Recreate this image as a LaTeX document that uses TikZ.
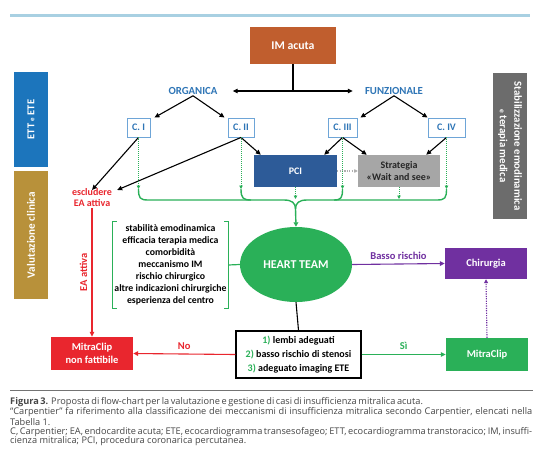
\documentclass[tikz,border=0pt]{standalone}
\usepackage{fontspec}
\setmainfont{Carlito}
\newfontfamily\capfont{Open Sans}
\usetikzlibrary{arrows.meta,shapes.geometric,calc}
\definecolor{topline}{RGB}{168,208,226}
\definecolor{imorange}{RGB}{192,94,46}
\definecolor{cblue}{RGB}{46,117,182}
\definecolor{cbord}{RGB}{110,165,215}
\definecolor{ettblue}{RGB}{28,117,188}
\definecolor{valgold}{RGB}{184,145,58}
\definecolor{pciblue}{RGB}{45,91,152}
\definecolor{stratgrey}{RGB}{166,166,166}
\definecolor{bargrey}{RGB}{108,108,108}
\definecolor{mred}{RGB}{233,38,46}
\definecolor{mgreen}{RGB}{42,176,88}
\definecolor{mpurple}{RGB}{112,48,160}
\definecolor{dotgrey}{RGB}{175,175,175}
\definecolor{captext}{RGB}{70,70,70}
\begin{document}
\begin{tikzpicture}[x=1pt,y=-1pt,
  arr/.style={-{Triangle[length=5pt,width=4.5pt]}, line width=1.1pt},
  cbox/.style={draw=cbord, fill=white, line width=0.9pt, text=cblue, font=\bfseries\fontsize{10}{11}\selectfont, minimum height=19pt, inner sep=0pt},
  fillbox/.style={inner sep=0pt, text=white, font=\bfseries\fontsize{10.5}{13}\selectfont, align=center},
  hdr/.style={text=cblue, font=\bfseries\fontsize{10.8}{12}\selectfont, inner sep=1pt},
  sidebar/.style={inner sep=0pt, minimum width=34pt},
  gdot/.style={draw=mgreen, line width=1pt, dash pattern=on 1pt off 1pt, -{Triangle[length=3.5pt,width=3.5pt]}},
  gline/.style={draw=mgreen, line width=1.4pt},
  lbl/.style={font=\bfseries\fontsize{10.5}{12}\selectfont},
  captxt/.style={anchor=west, inner sep=0pt, text=captext, font=\capfont\fontsize{9.2}{10}\selectfont}
]
\useasboundingbox (0,0) rectangle (543,458);
\fill[white] (0,0) rectangle (543,458);
% top rule
\draw[topline, line width=3pt] (10,15) -- (530,15);

% side bars
\node[sidebar, fill=ettblue, minimum height=95pt] (ett) at (31,119.5) {};
\node[rotate=90, text=white, font=\bfseries\fontsize{10.5}{12}\selectfont] at (ett.center) {ETT {\fontsize{7}{8}\selectfont e} ETE};
\node[sidebar, fill=valgold, minimum height=128pt] (val) at (31,235) {};
\node[rotate=90, text=white, font=\bfseries\fontsize{11.2}{13}\selectfont] at (val.center) {Valutazione clinica};
\node[sidebar, fill=bargrey, minimum height=146pt] (stab) at (510,146) {};
\node[rotate=-90, text=white, font=\bfseries\fontsize{10.8}{14.5}\selectfont, align=center] at (stab.center) {Stabilizzazione emodinamica\\{\fontsize{7.5}{8}\selectfont e} terapia medica};

% IM acuta
\node[fillbox, fill=imorange, minimum width=86pt, minimum height=37pt, font=\bfseries\fontsize{11.8}{13}\selectfont] (im) at (293,45.5) {IM acuta};
\node[hdr] (org) at (193,91) {ORGANICA};
\node[hdr] (fun) at (394,91) {FUNZIONALE};
\coordinate (jn) at (293,91);
\draw[line width=1.1pt] (im.south) -- (jn);
\draw[arr, shorten >=14pt] (jn) -- (org.east);
\draw[arr, shorten >=11pt] (jn) -- (fun.west);

% Carpentier boxes
\node[cbox, minimum width=23pt] (c1) at (138.5,127.5) {C. I};
\node[cbox, minimum width=26pt] (c2) at (241,127.5) {C. II};
\node[cbox, minimum width=29pt] (c3) at (342.5,127.5) {C. III};
\node[cbox, minimum width=37pt] (c4) at (446.5,127.5) {C. IV};
\draw[arr] (org.south) -- ([xshift=4pt]c1.north east);
\draw[arr] (org.south) -- ([xshift=-3pt]c2.north west);
\draw[arr] (fun.south) -- ([xshift=3pt]c3.north east);
\draw[arr] (fun.south) -- (c4.north west);

% PCI and strategy
\node[fillbox, fill=pciblue, minimum width=83pt, minimum height=32pt, font=\bfseries\fontsize{10}{11}\selectfont] (pci) at (295.5,171) {PCI};
\node[fillbox, fill=stratgrey, text=black!85, minimum width=82pt, minimum height=32pt, font=\bfseries\fontsize{10}{12.5}\selectfont] (strat) at (399,171) {Strategia\\«Wait and see»};
\draw[arr] (c2.south) -- ([xshift=7pt]pci.north west);
\draw[arr] (c3.south) -- ([xshift=-13pt]pci.north east);
\draw[arr] (c3.south) -- ([xshift=9pt]strat.north west);
\draw[arr] (c4.south) -- ([xshift=-14pt]strat.north east);
\draw[draw=dotgrey, line width=1.2pt, dash pattern=on 1.2pt off 1.2pt, -{Triangle[length=3.5pt,width=3.5pt]}] (pci.east) -- (strat.west);

% escludere
\node[text=mred, align=center, font=\bfseries\fontsize{10}{11.5}\selectfont, inner sep=1pt] (escl) at (92,197.5) {escludere\\EA attiva};
\draw[arr] (c1.south) -- ([yshift=-3pt]escl.north);
\draw[arr] (c2.south) -- ([xshift=4pt,yshift=-3pt]escl.north east);

% green merge
\coordinate (g1) at (138.5,189);
\coordinate (g2) at (241,189);
\coordinate (g3) at (342.5,189);
\coordinate (g4) at (446.5,189);
\coordinate (gp) at (295.5,199);
\coordinate (gs) at (399,199);
\coordinate (gm) at (295.5,209);
\draw[gdot] (c1.south) -- (g1);
\draw[gdot] (c2.south) -- (g2);
\draw[gdot] (c3.south) -- (g3);
\draw[gdot] (c4.south) -- (g4);
\draw[gdot] (pci.south) -- (gp);
\draw[gdot] (strat.south) -- (gs);
\draw[gline] (g1) .. controls (138.5,198) and (140,200) .. (148,200) -- (284,200) .. controls (292,200) and (295.5,203) .. (gm);
\draw[gline] (g2) .. controls (241,198) and (243,200) .. (251,200);
\draw[gline] (g4) .. controls (446.5,198) and (445,200) .. (437,200) -- (307,200) .. controls (299,200) and (295.5,203) .. (gm);
\draw[gline] (g3) .. controls (342.5,198) and (341,200) .. (334,200);

% HEART TEAM
\node[ellipse, fill=mgreen, minimum width=112pt, minimum height=75pt, inner sep=0pt, text=white, font=\bfseries\fontsize{12}{14}\selectfont] (ht) at (296,264.5) {HEART TEAM};
\draw[gline, -{Triangle[length=4.5pt,width=4.5pt]}] (gm) -- (ht.north);

% factors
\node[minimum width=115pt, minimum height=86pt, inner sep=0pt, align=center, font=\bfseries\fontsize{9.8}{12}\selectfont] (fac) at (170.5,265) {stabilità emodinamica\\efficacia terapia medica\\comorbidità\\meccanismo IM\\rischio chirurgico\\altre indicazioni chirurgiche\\esperienza del centro};
\draw[mgreen, line width=1.2pt] ([xshift=4pt]fac.north west) -- (fac.north west) -- (fac.south west) -- ([xshift=4pt]fac.south west);
\draw[mgreen, line width=1.2pt] ([xshift=-4pt]fac.north east) -- (fac.north east) -- (fac.south east) -- ([xshift=-4pt]fac.south east);
\draw[mgreen, line width=1.2pt] (fac.east) -- (ht.west);

% Chirurgia
\node[fillbox, fill=mpurple, minimum width=82pt, minimum height=31pt] (chir) at (486,263.5) {Chirurgia};
\draw[arr, mpurple] (ht.east) -- node[lbl, above=1pt, text=mpurple] {Basso rischio} (chir.west);

% criteria
\node[draw=black, line width=1.4pt, fill=white, minimum width=125pt, minimum height=47pt, inner sep=0pt, align=center, font=\bfseries\fontsize{10}{14}\selectfont] (crit) at (298.5,354.5) {\textcolor{mgreen}{1)} lembi adeguati\\\textcolor{mgreen}{2)} basso rischio di stenosi\\\textcolor{mgreen}{3)} adeguato imaging ETE};
\draw[line width=1.1pt] (ht.south) -- (crit.north);

% MitraClip boxes
\node[fillbox, fill=mred, minimum width=82pt, minimum height=33pt] (mnf) at (92,353.5) {MitraClip\\non fattibile};
\node[fillbox, fill=mgreen, minimum width=82pt, minimum height=33pt] (mc) at (487,354.5) {MitraClip};
\draw[arr, mred] (escl.south) -- node[lbl, left=1pt, rotate=90, anchor=south, text=mred] {EA attiva} (mnf.north);
\draw[arr, mred] (crit.west) -- node[lbl, above=1pt, text=mred] {No} (mnf.east);
\draw[arr, mgreen] (crit.east) -- node[lbl, above=1pt, text=mgreen] {Sì} (mc.west);
\draw[draw=mpurple, line width=1.1pt, dash pattern=on 1.2pt off 1.2pt, -{Triangle[length=4pt,width=4pt]}] (mc.north) -- (chir.south);

% caption
\draw[black!55, line width=0.7pt] (10,390) -- (533,390);
\node[captxt] (cap1) at (10,402) {\makebox[400pt][s]{\textbf{Figura 3.} Proposta di flow-chart per la valutazione e gestione di casi di insufficienza mitralica acuta.}};
\node[captxt] (cap2) at (10,412.5) {\makebox[522pt][s]{“Carpentier” fa riferimento alla classificazione dei meccanismi di insufficienza mitralica secondo Carpentier, elencati nella}};
\node[captxt] (cap3) at (10,422) {Tabella 1.};
\node[captxt] (cap4) at (10,432) {\makebox[522pt][s]{C, Carpentier; EA, endocardite acuta; ETE, ecocardiogramma transesofageo; ETT, ecocardiogramma transtoracico; IM, insuffi-}};
\node[captxt] (cap5) at (10,441.5) {\makebox[236pt][s]{cienza mitralica; PCI, procedura coronarica percutanea.}};
\end{tikzpicture}
\end{document}
